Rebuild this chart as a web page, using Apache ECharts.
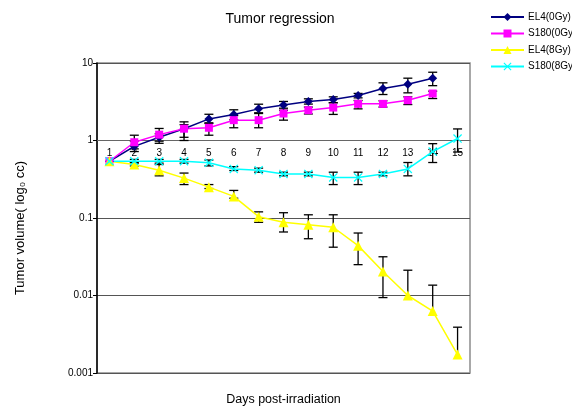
<!DOCTYPE html>
<html><head><meta charset="utf-8">
<script src="https://cdn.jsdelivr.net/npm/echarts@6/dist/echarts.min.js"></script>
<style>html,body{margin:0;padding:0;background:#fff}#c{width:572px;height:406px}</style>
</head><body><div id="c"></div>
<script>
const days = ['1','2','3','4','5','6','7','8','9','10','11','12','13','14','15'];
const yTickLabels = ['0.001','0.01','0.1','1','10'];
const seriesNames = ['EL4(0Gy)','S180(0Gy)','EL4(8Gy)','S180(8Gy)'];

const el4_0 = [0.54,0.84,1.10,1.42,1.90,2.17,2.56,2.87,3.19,3.38,3.81,4.69,5.33,6.37,null];
const s180_0 = [0.54,0.95,1.19,1.42,1.46,1.83,1.83,2.23,2.46,2.66,2.97,2.97,3.31,4.04,null];
const el4_8 = [0.54,0.49,0.414,0.327,0.25,0.19,0.104,0.088,0.082,0.076,0.044,0.0204,0.010,0.0063,0.00173];
const s180_8 = [0.54,0.54,0.54,0.54,0.515,0.43,0.414,0.37,0.37,0.334,0.334,0.37,0.43,0.72,1.06];

// error bars [low, high]; low null = lower bar not drawn
const el4_0_err = [null,[0.72,0.98],[0.98,1.22],[1.1,1.74],[1.66,2.18],[1.85,2.49],[2.23,2.94],[2.46,3.19],[2.95,3.45],[3.07,3.66],[3.55,4.05],[3.92,5.55],[4.12,6.37],[5.1,7.6],null];
const s180_0_err = [null,[0.78,1.17],[0.92,1.43],[1.0,1.6],[1.17,1.69],[1.46,2.1],[1.46,2.28],[1.83,2.61],[2.2,2.7],[2.17,3.07],[2.56,3.28],[2.7,3.25],[2.91,3.66],[3.48,4.33],null];
const el4_8_err = [null,[0.47,0.52],[0.35,0.49],[0.27,0.38],[0.24,0.27],[0.18,0.227],[0.088,0.12],[0.066,0.117],[0.054,0.11],[0.042,0.11],[0.025,0.064],[0.0094,0.0316],[null,0.0212],[null,0.0136],[null,0.0039]];
const s180_8_err = [null,[0.51,0.57],[0.51,0.57],[0.51,0.57],[0.47,0.56],[0.41,0.46],[0.39,0.44],[0.35,0.39],[0.35,0.39],[0.27,0.39],[0.27,0.39],[0.35,0.39],[0.35,0.52],[0.52,0.91],[0.71,1.41]];

const colors = ['#000080','#FF00FF','#FFFF00','#00FFFF'];
const symbols = ['diamond','rect','triangle','path://M0,1L1,0L5,4L9,0L10,1L6,5L10,9L9,10L5,6L1,10L0,9L4,5Z'];
const symbolSizes = [9,8,10,9];
const values = [el4_0, s180_0, el4_8, s180_8];
const errs = [el4_0_err, s180_0_err, el4_8_err, s180_8_err];

function errRender(vals, er){
  return function(params, api){
    const i = api.value(0);
    const e = er[i]; const v = vals[i];
    const hi = api.coord([i, e[1]]);
    const lo = api.coord([i, e[0] == null ? v : e[0]]);
    const cw = 4.5;
    const st = {stroke:'#000', lineWidth:1.3};
    const ch = [
      {type:'line', shape:{x1:hi[0],y1:hi[1],x2:lo[0],y2:lo[1]}, style:st},
      {type:'line', shape:{x1:hi[0]-cw,y1:hi[1],x2:hi[0]+cw,y2:hi[1]}, style:st}
    ];
    if (e[0] != null) ch.push({type:'line', shape:{x1:lo[0]-cw,y1:lo[1],x2:lo[0]+cw,y2:lo[1]}, style:st});
    return {type:'group', children:ch};
  };
}

const series = [];
values.forEach((vals, k) => {
  series.push({
    type:'custom', name: seriesNames[k] + ' err', z: 2,
    renderItem: errRender(vals, errs[k]),
    encode:{x:0, y:1},
    data: errs[k].map((e,i) => e ? [i, vals[i]] : null).filter(Boolean),
    silent:true
  });
});
values.forEach((vals, k) => {
  series.push({
    type:'line', name: seriesNames[k], z: 3,
    data: vals.map(v => v == null ? '-' : v),
    symbol: symbols[k], symbolSize: symbolSizes[k], showSymbol:true,
    itemStyle:{color: colors[k]},
    lineStyle:{color: colors[k], width:1.5},
    animation:false
  });
});

const chart = echarts.init(document.getElementById('c'), null, {renderer:'canvas'});
const font = 'Liberation Sans, Arial, sans-serif';
chart.setOption({
  animation:false,
  textStyle:{fontFamily: font},
  title:{text:'Tumor regression', left: 275, top: 7, textAlign:'center',
    textStyle:{fontSize:14, fontWeight:'normal', color:'#000', fontFamily: font}},
  legend:{data: seriesNames, orient:'vertical', left:490, top:12, itemWidth:33, itemHeight:10, itemGap:6.5, padding:0,
    textStyle:{fontSize:10, color:'#000', fontFamily: font, padding:[0,0,0,-1]}},
  grid:{left:97, right:102, top:63, bottom:33, show:true, borderColor:'#8c8c8c', borderWidth:1.5, backgroundColor:'#fff',
    containLabel:false, outerBoundsMode:'none'},
  xAxis:[{
    type:'category', data: days, boundaryGap:true, position:'bottom', offset:-232.5,
    axisLine:{onZero:false, lineStyle:{color:'#666', width:1.2}},
    axisTick:{inside:true, length:4, lineStyle:{color:'#333'}},
    axisLabel:{fontSize:10, color:'#000', margin:8, fontFamily: font},
    splitLine:{show:false}
  },{
    type:'category', data: days, position:'bottom', gridIndex:0,
    axisLine:{show:false}, axisTick:{show:false}, axisLabel:{show:false},
    name:'Days post-irradiation', nameLocation:'middle', nameGap:20,
    nameTextStyle:{fontSize:12.5, color:'#000', fontFamily: font}
  }],
  yAxis:{
    type:'log', logBase:10, min:0.001, max:10, interval:1,
    axisLine:{show:true, lineStyle:{color:'#000', width:1.5}},
    axisTick:{show:true, length:4, lineStyle:{color:'#000'}},
    minorTick:{show:false},
    axisLabel:{fontSize:10, color:'#000', margin:4, fontFamily: font,
      formatter: v => yTickLabels[Math.round(Math.log10(v)) + 3]},
    splitLine:{show:true, lineStyle:{color:'#555', width:1}},
    name:'Tumor volume( log\u2080 cc)', nameLocation:'middle', nameGap:70,
    nameTextStyle:{fontSize:13, color:'#000', fontFamily: font, padding:[0,20,0,0]}
  },
  series: series
});
</script>
</body></html>
